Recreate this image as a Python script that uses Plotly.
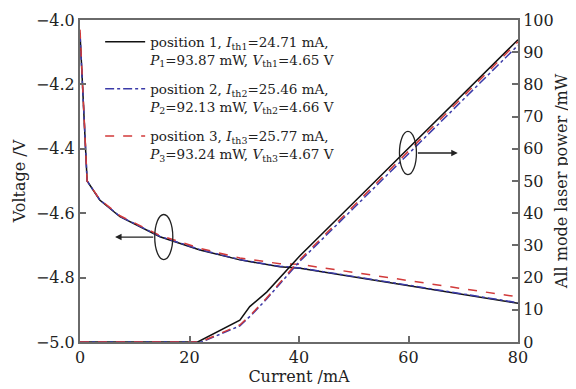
import plotly.graph_objects as go

# Voltage curves (left axis)
v_current = [0.0, 1.3, 3.6, 7.3, 14.6, 21.9, 29.2, 36.5, 40.2, 50, 60, 70, 80]
v_pos1 = [-4.04, -4.50, -4.559, -4.611, -4.673, -4.714, -4.745, -4.766, -4.771, -4.798, -4.825, -4.853, -4.880]
v_pos2 = [-4.04, -4.50, -4.558, -4.610, -4.672, -4.713, -4.744, -4.765, -4.770, -4.797, -4.824, -4.852, -4.878]
v_pos3 = [-4.03, -4.50, -4.557, -4.608, -4.669, -4.709, -4.739, -4.757, -4.759, -4.784, -4.810, -4.835, -4.860]

# Power curves (right axis)
p_current1 = [0, 21.5, 29.2, 31.0, 34.1, 40, 50, 60, 70, 80]
p_pos1 = [0, 0, 6.8, 11.0, 15.5, 26.5, 43.3, 60.2, 77.0, 93.87]
p_current2 = [0, 22.2, 29.2, 31.5, 34.0, 40, 50, 60, 70, 80]
p_pos2 = [0, 0, 5.0, 8.7, 13.2, 24.8, 41.6, 58.4, 75.3, 92.13]
p_current3 = [0, 22.0, 29.2, 31.5, 34.0, 40, 50, 60, 70, 80]
p_pos3 = [0, 0, 5.3, 9.0, 13.5, 25.3, 42.3, 59.3, 76.3, 93.24]

names = [
    "position 1, <i>I</i><sub>th1</sub>=24.71 mA,<br><i>P</i><sub>1</sub>=93.87 mW, <i>V</i><sub>th1</sub>=4.65 V",
    "position 2, <i>I</i><sub>th2</sub>=25.46 mA,<br><i>P</i><sub>2</sub>=92.13 mW, <i>V</i><sub>th2</sub>=4.66 V",
    "position 3, <i>I</i><sub>th3</sub>=25.77 mA,<br><i>P</i><sub>3</sub>=93.24 mW, <i>V</i><sub>th3</sub>=4.67 V",
]

colors = ["#111111", "#3a3aa8", "#d23a3a"]
dashes = ["solid", "dashdot", "dash"]

SERIF = "DejaVu Serif"
fig = go.Figure()

vs = [v_pos1, v_pos2, v_pos3]
pcs = [p_current1, p_current2, p_current3]
ps = [p_pos1, p_pos2, p_pos3]
for i in range(3):
    fig.add_trace(go.Scatter(x=v_current, y=vs[i], mode="lines", name=names[i],
                             legendgroup=f"g{i}",
                             line=dict(color=colors[i], dash=dashes[i], width=1.5)))
for i in range(3):
    fig.add_trace(go.Scatter(x=pcs[i], y=ps[i], mode="lines", name=names[i],
                             legendgroup=f"g{i}", showlegend=False, yaxis="y2",
                             line=dict(color=colors[i], dash=dashes[i], width=1.5)))

axis_common = dict(showline=True, linecolor="#6a6a6a", linewidth=2, ticks="inside",
                   ticklen=6, tickwidth=1.5, tickcolor="#6a6a6a", showgrid=False,
                   zeroline=False, automargin=False,
                   tickfont=dict(family=SERIF, size=16, color="#222"))

# page body has an 8px margin, so the figure is sized to fit the 576x389 window
fig.update_layout(
    width=568, height=381,
    margin=dict(l=72, r=58, t=12, b=47),
    paper_bgcolor="white", plot_bgcolor="white",
    font=dict(family=SERIF, color="#222"),
    xaxis=dict(range=[0, 80], dtick=20, mirror=True,
               title=dict(text="Current /mA", font=dict(family=SERIF, size=16), standoff=5),
               **axis_common),
    yaxis=dict(range=[-5, -4], dtick=0.2, tickformat=".1f",
               title=dict(text="Voltage /V", font=dict(family=SERIF, size=16), standoff=6),
               **axis_common),
    yaxis2=dict(range=[0, 100], dtick=10, overlaying="y", side="right",
                title=dict(text="All mode laser power /mW", font=dict(family=SERIF, size=16), standoff=3),
                **axis_common),
    legend=dict(x=0.046, y=0.98, xanchor="left", yanchor="top", bgcolor="rgba(0,0,0,0)",
                font=dict(family=SERIF, size=13.5, color="#222"), itemwidth=40,
                valign="top", tracegroupgap=9),
    showlegend=True,
)

# ellipses
fig.add_shape(type="circle", xref="x", yref="y", x0=13.65, x1=16.95, y0=-4.744, y1=-4.604,
              line=dict(color="#222", width=1.3))
fig.add_shape(type="circle", xref="x", yref="y2", x0=58.35, x1=61.45, y0=52.0, y1=65.4,
              line=dict(color="#222", width=1.3))
# arrows
fig.add_annotation(x=6.4, y=-4.674, ax=13.65, ay=-4.674, xref="x", yref="y", axref="x", ayref="y",
                   showarrow=True, arrowhead=2, arrowsize=1, arrowwidth=1.3, arrowcolor="#222", text="")
fig.add_annotation(x=69.0, y=58.7, ax=61.45, ay=58.7, xref="x", yref="y2", axref="x", ayref="y2",
                   showarrow=True, arrowhead=2, arrowsize=1, arrowwidth=1.3, arrowcolor="#222", text="")

fig.write_html("out.html")
